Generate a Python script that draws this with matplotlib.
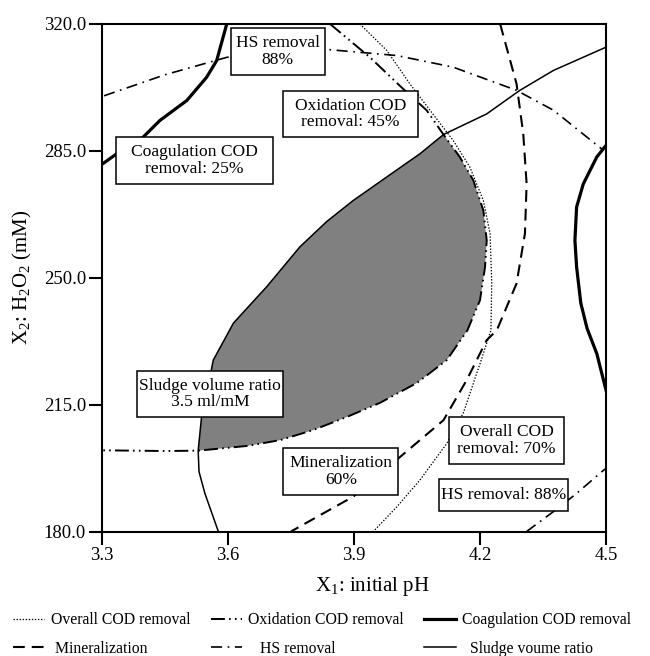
import matplotlib
matplotlib.use("Agg")
import matplotlib.pyplot as plt
from matplotlib.patches import Rectangle
import numpy as np

plt.rcParams['font.family'] = ['Liberation Serif', 'DejaVu Serif']
plt.rcParams['mathtext.fontset'] = 'custom'
plt.rcParams['mathtext.rm'] = 'Liberation Serif'
plt.rcParams['mathtext.it'] = 'Liberation Serif:italic'
plt.rcParams['lines.scale_dashes'] = False

# ---------------- data ----------------
x_ticks = [3.3, 3.6, 3.9, 4.2, 4.5]
y_ticks = [180.0, 215.0, 250.0, 285.0, 320.0]

overall_x = [3.914, 3.978, 4.033, 4.081, 4.136, 4.176, 4.208, 4.224, 4.228, 4.226, 4.200, 4.160, 4.121, 4.057, 4.002, 3.946]
overall_y = [320.0, 312.7, 303.5, 296.2, 287.9, 280.5, 271.3, 262.2, 248.4, 235.5, 226.3, 212.6, 204.3, 194.2, 186.8, 180.0]

oxid_x = [3.843, 3.938, 4.017, 4.073, 4.113, 4.152, 4.184, 4.208, 4.216, 4.212, 4.200, 4.170, 4.121, 4.050, 3.962, 3.883, 3.803, 3.724, 3.645, 3.529, 3.450, 3.300]
oxid_y = [320.0, 310.8, 302.1, 296.2, 289.5, 283.3, 276.9, 268.6, 260.3, 253.0, 243.8, 235.5, 227.3, 221.0, 215.5, 211.6, 208.0, 205.2, 203.6, 202.3, 202.2, 202.4]

coag_left_x = [3.597, 3.573, 3.549, 3.502, 3.438, 3.398, 3.335, 3.300]
coag_left_y = [320.0, 309.9, 305.3, 298.9, 293.4, 288.8, 284.2, 281.3]
coag_right_x = [4.500, 4.478, 4.446, 4.430, 4.426, 4.430, 4.440, 4.455, 4.478, 4.500]
coag_right_y = [286.5, 283.3, 275.9, 269.5, 260.3, 253.0, 243.0, 236.0, 229.1, 219.0]

mineral_x = [4.248, 4.287, 4.303, 4.311, 4.307, 4.287, 4.240, 4.216, 4.168, 4.113, 4.010, 3.898, 3.819, 3.750]
mineral_y = [320.0, 303.5, 289.7, 275.9, 262.2, 248.4, 235.5, 232.8, 221.7, 210.7, 200.6, 189.6, 184.5, 180.0]

hs_top_x = [3.305, 3.450, 3.597, 3.720, 3.843, 4.002, 4.136, 4.287, 4.375, 4.490]
hs_top_y = [300.2, 306.0, 310.8, 312.6, 312.9, 311.3, 308.1, 301.7, 296.2, 285.5]
hs_bot_x = [4.311, 4.375, 4.430, 4.490, 4.500]
hs_bot_y = [180.0, 185.5, 190.5, 196.5, 197.4]

sludge_x = [3.577, 3.545, 3.531, 3.529, 3.537, 3.549, 3.565, 3.613, 3.692, 3.771, 3.835, 3.898, 3.978, 4.057, 4.113, 4.216, 4.295, 4.375, 4.500]
sludge_y = [180.0, 190.5, 196.5, 202.3, 211.6, 218.1, 227.3, 237.5, 247.5, 258.5, 265.5, 271.3, 277.8, 284.2, 289.5, 295.2, 301.7, 307.2, 313.6]

box_texts = ["HS removal\n88%", "Coagulation COD\nremoval: 25%", "Oxidation COD\nremoval: 45%",
             "Sludge volume ratio\n3.5 ml/mM", "Mineralization\n60%", "Overall COD\nremoval: 70%",
             "HS removal: 88%"]

legend_labels = ["Overall COD removal", " Mineralization", "Oxidation COD removal",
                 "   HS removal", "Coagulation COD removal", "  Sludge voume ratio"]

# ---------------- figure ----------------
W, H = 650, 656
fig = plt.figure(figsize=(W / 100, H / 100), dpi=100)
L, R, T, B = 102, 606, 24, 531.5
ax = fig.add_axes([L / W, 1 - B / H, (R - L) / W, (B - T) / H])
ax.set_xlim(3.3, 4.5)
ax.set_ylim(180, 320)

# grey feasible region: sludge (left/upper) + oxidation (right/lower)
i0 = sludge_y.index(202.3)
i1 = sludge_y.index(289.5)
j0 = oxid_y.index(289.5)
j1 = oxid_y.index(202.3)
fx = sludge_x[i0:i1 + 1] + oxid_x[j0 + 1:j1]
fy = sludge_y[i0:i1 + 1] + oxid_y[j0 + 1:j1]
ax.fill(fx, fy, color='#808080', zorder=1, lw=0)

l_over, = ax.plot(overall_x, overall_y, color='black', lw=0.9, dashes=(1.0, 1.2), zorder=2)
l_oxid, = ax.plot(oxid_x, oxid_y, color='black', lw=1.4, dashes=(10, 3, 1.2, 3, 1.2, 3), zorder=2)
l_coag, = ax.plot(coag_left_x, coag_left_y, color='black', lw=2.3, zorder=2)
ax.plot(coag_right_x, coag_right_y, color='black', lw=2.3, zorder=2)
l_min, = ax.plot(mineral_x, mineral_y, color='black', lw=1.5, dashes=(8.5, 5), zorder=2)
l_hs, = ax.plot(hs_top_x, hs_top_y, color='black', lw=1.2, dashes=(8, 4, 1.2, 4), zorder=2)
ax.plot(hs_bot_x, hs_bot_y, color='black', lw=1.2, dashes=(8, 4, 1.2, 4), zorder=2)
l_sl, = ax.plot(sludge_x, sludge_y, color='black', lw=1.1, zorder=2)

# label boxes (pixel layout)
box_px = [(230.7, 28.3, 325.0, 75.0), (116.0, 136.7, 273.3, 184.0), (282.7, 90.7, 418.3, 137.3),
          (137.3, 370.7, 283.3, 417.3), (283.3, 448.3, 398.3, 495.0), (449.3, 417.3, 564.0, 464.0),
          (439.0, 479.0, 568.3, 510.7)]
for txt, (x0, y0, x1, y1) in zip(box_texts, box_px):
    ax0 = (x0 - L) / (R - L)
    ax1 = (x1 - L) / (R - L)
    ay0 = (B - y1) / (B - T)
    ay1 = (B - y0) / (B - T)
    ax.add_patch(Rectangle((ax0, ay0), ax1 - ax0, ay1 - ay0, transform=ax.transAxes,
                           facecolor='white', edgecolor='black', lw=1.1, zorder=3))
    ax.text((ax0 + ax1) / 2, (ay0 + ay1) / 2, txt, transform=ax.transAxes, ha='center',
            va='center', fontsize=12.6, linespacing=1.05, zorder=4)

ax.set_xticks(x_ticks)
ax.set_xticklabels([f"{v:.1f}" for v in x_ticks])
ax.set_yticks(y_ticks)
ax.set_yticklabels([f"{v:.1f}" for v in y_ticks])
ax.tick_params(direction='out', length=9.5, width=1.5, labelsize=13.4, pad=2)
for s in ax.spines.values():
    s.set_linewidth(1.5)

ax.set_xlabel("X$_1$: initial pH", fontsize=15)
ax.xaxis.set_label_coords((372 - L) / (R - L), -(586 - B) / (B - T))
ax.xaxis.label.set_va('center')
ax.set_ylabel("X$_2$: H$_2$O$_2$ (mM)", fontsize=15)
ax.yaxis.set_label_coords(-(L - 22) / (R - L), 0.5)
ax.yaxis.label.set_va('center')

handles = [l_over, l_min, l_oxid, l_hs, l_coag, l_sl]
fig.legend(handles, legend_labels, ncol=3, loc='center left',
           bbox_to_anchor=(13 / W, 1 - 634.5 / H), frameon=False, fontsize=11.3,
           handlelength=2.0, handletextpad=0.4, columnspacing=1.3, labelspacing=0.8,
           borderpad=0, borderaxespad=0)

fig.savefig("out.png", dpi=100)
